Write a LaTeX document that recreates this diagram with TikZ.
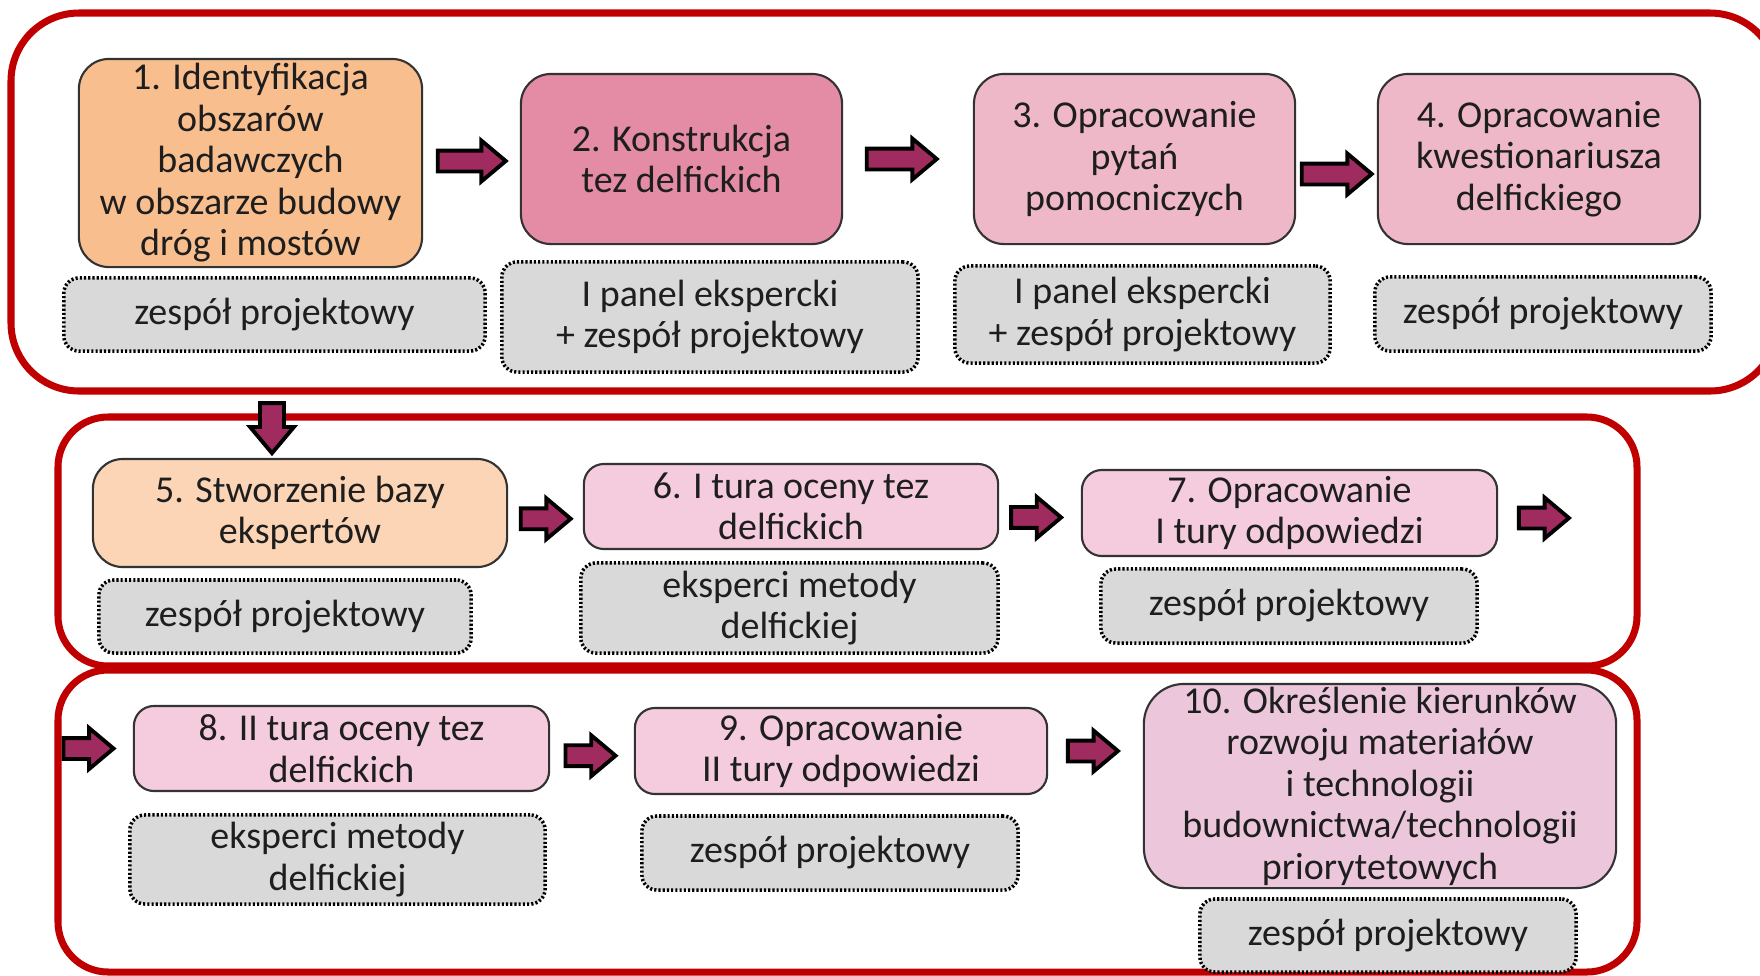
\documentclass[tikz,border=0pt]{standalone}
\usepackage{fontspec}
\setmainfont{Carlito}
\usetikzlibrary{shapes.arrows,calc}

\definecolor{framered}{HTML}{C00000}
\definecolor{stepone}{HTML}{F9BE8E}
\definecolor{steptwo}{HTML}{E48BA5}
\definecolor{stepmid}{HTML}{EFB8C9}
\definecolor{steppeach}{HTML}{FBD5B5}
\definecolor{steplight}{HTML}{F5CCDD}
\definecolor{steplast}{HTML}{ECC7DC}
\definecolor{teamgrey}{HTML}{D9D9D9}
\definecolor{arrowfill}{HTML}{A02B5F}
\definecolor{inktext}{HTML}{1E1E1E}

\tikzset{
  stepbox/.style={draw=black!80, line width=0.6pt, rounded corners=0.3cm, align=center, inner sep=0pt, text=inktext},
  teambox/.style={draw=black, fill=teamgrey, line width=1pt, dash pattern=on 0.6pt off 0.6pt, rounded corners=0.15cm, align=center, inner sep=0pt, text=inktext},
  fatarrow/.style={single arrow, draw=black, fill=arrowfill, line width=1.1pt, minimum height=0.5cm, inner xsep=0pt, inner ysep=0.085cm, single arrow head extend=0.1cm, single arrow tip angle=80, xshift=-0.06cm},
  frame/.style={draw=framered, line width=2pt}
}

\begin{document}
\begin{tikzpicture}[x=0.01cm, y=-0.01cm, font=\fontsize{10.8}{11.8}\selectfont]
\clip (0,0) rectangle (1760,975);

% three stages
\draw[frame, rounded corners=0.68cm] (11,13) rectangle (1778,391);
\draw[frame, rounded corners=0.5cm] (58,417) rectangle (1637,666);
\draw[frame, rounded corners=0.5cm] (58,670) rectangle (1637,972);

% stage one
\node[stepbox, fill=stepone, minimum width=3.43cm, minimum height=2.08cm] (b1) at (250.5,163) {1. Identyfikacja\\obszarów\\badawczych\\w obszarze budowy\\dróg i mostów};
\node[stepbox, fill=steptwo, minimum width=3.21cm, minimum height=1.7cm] (b2) at (681.5,159) {2. Konstrukcja\\tez delfickich};
\node[stepbox, fill=stepmid, minimum width=3.21cm, minimum height=1.7cm] (b3) at (1134.5,159) {3. Opracowanie\\pytań\\pomocniczych};
\node[stepbox, fill=stepmid, minimum width=3.22cm, minimum height=1.7cm] (b4) at (1539,159) {4. Opracowanie\\kwestionariusza\\delfickiego};

\node[teambox, minimum width=4.21cm, minimum height=0.73cm] (g1) at (274.5,314.5) {zespół projektowy};
\node[teambox, minimum width=4.16cm, minimum height=1.1cm] (g2) at (710,317) {I panel ekspercki\\+ zespół projektowy};
\node[teambox, minimum width=3.75cm, minimum height=0.97cm] (g3) at (1142.5,314.5) {I panel ekspercki\\+ zespół projektowy};
\node[teambox, minimum width=3.36cm, minimum height=0.74cm] (g4) at (1543,314) {zespół projektowy};

% stage two
\node[stepbox, fill=steppeach, minimum width=4.14cm, minimum height=1.08cm] (b5) at (300,513) {5. Stworzenie bazy\\ekspertów};
\node[stepbox, fill=steplight, rounded corners=0.2cm, minimum width=4.14cm, minimum height=0.85cm] (b6) at (791,506.5) {6. I tura oceny tez\\delfickich};
\node[stepbox, fill=steplight, rounded corners=0.2cm, minimum width=4.15cm, minimum height=0.86cm] (b7) at (1289.5,513) {7. Opracowanie\\I tury odpowiedzi};

\node[teambox, minimum width=3.72cm, minimum height=0.73cm] (g5) at (285,616.5) {zespół projektowy};
\node[teambox, minimum width=4.17cm, minimum height=0.9cm] (g6) at (789.5,608) {eksperci metody\\delfickiej};
\node[teambox, minimum width=3.76cm, minimum height=0.74cm] (g7) at (1289,606) {zespół projektowy};

% stage three
\node[stepbox, fill=steplight, rounded corners=0.2cm, minimum width=4.15cm, minimum height=0.85cm] (b8) at (341.5,748.5) {8. II tura oceny tez\\delfickich};
\node[stepbox, fill=steplight, rounded corners=0.2cm, minimum width=4.12cm, minimum height=0.86cm] (b9) at (841,751) {9. Opracowanie\\II tury odpowiedzi};
\node[stepbox, fill=steplast, rounded corners=0.4cm, minimum width=4.72cm, minimum height=2.04cm] (b10) at (1380,786) {10. Określenie kierunków\\rozwoju materiałów\\i technologii\\budownictwa/technologii\\priorytetowych};

\node[teambox, minimum width=4.15cm, minimum height=0.89cm] (g8) at (337.5,859.5) {eksperci metody\\delfickiej};
\node[teambox, minimum width=3.76cm, minimum height=0.74cm] (g9) at (830,853) {zespół projektowy};
\node[teambox, minimum width=3.76cm, minimum height=0.73cm] (g10) at (1388,935.5) {zespół projektowy};

% arrows between the steps
\node[fatarrow, minimum height=0.68cm] (a12) at ($(b1.east)!0.5!(b2.west)$) {};
\node[fatarrow, minimum height=0.7cm] (a23) at ($(b2.east)!0.45!(b3.west)$) {};
\node[fatarrow, minimum height=0.7cm, yshift=-0.15cm] (a34) at ($(b3.east)!0.5!(b4.west)$) {};
\node[fatarrow, rotate=-90, minimum height=0.5cm, inner ysep=0.1cm] (a45) at (278,421) {};
\node[fatarrow, yshift=-0.09cm] (a56) at ($(b5.east)!0.5!(b6.west)$) {};
\node[fatarrow, yshift=-0.08cm] (a67) at ($(b6.east)!0.45!(b7.west)$) {};
\node[fatarrow, xshift=0.455cm, yshift=-0.05cm] (a78) at (b7.east) {};
\node[fatarrow, xshift=-0.445cm] (a8) at (b8.west) {};
\node[fatarrow, yshift=-0.06cm] (a89) at ($(b8.east)!0.48!(b9.west)$) {};
\node[fatarrow, xshift=0.445cm] (a910) at (b9.east) {};
\end{tikzpicture}
\end{document}
